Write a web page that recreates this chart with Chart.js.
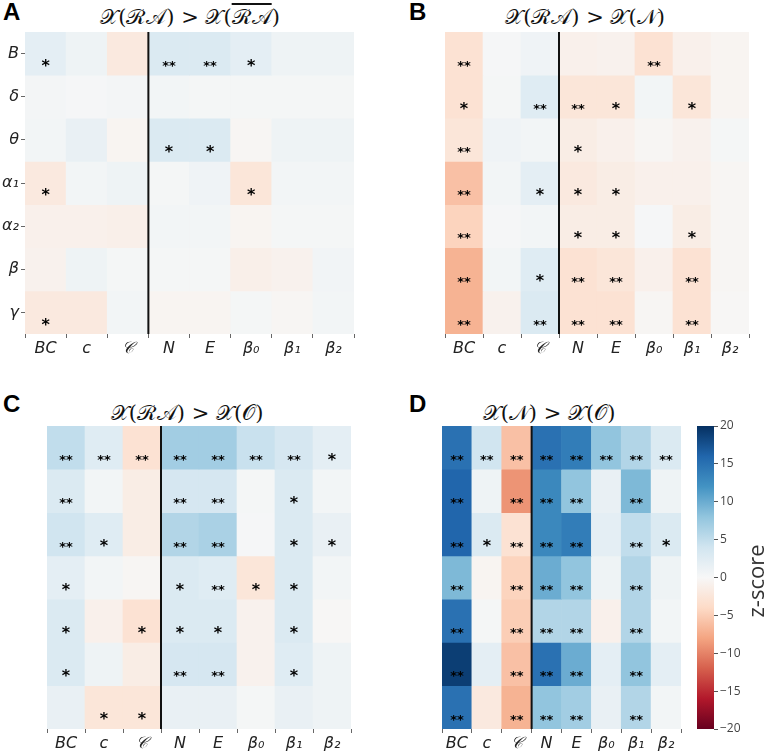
<!DOCTYPE html>
<html>
<head>
<meta charset="utf-8">
<script src="https://cdn.jsdelivr.net/npm/chart.js@4.4.1/dist/chart.umd.min.js"></script>
<style>
body { margin:0; width:768px; height:756px; background:#fff; position:relative; overflow:hidden; font-family:"DejaVu Sans", sans-serif; }
.box { position:absolute; }
.letter { position:absolute; font:bold 24px/24px "Liberation Sans", Arial, sans-serif; color:#000; }
.title { position:absolute; font-size:21px; line-height:26px; font-family:"DejaVu Serif", serif; color:#111; transform:translateX(-50%); white-space:nowrap; }
.over { text-decoration:overline; }
.zlabel { position:absolute; left:715px; top:566px; width:80px; line-height:24px; text-align:center; font:22px "Open Sans", sans-serif; color:#333; transform:rotate(-90deg); }
</style>
</head>
<body>

<div class="letter" style="left:3px; top:0px;">A</div>
<div class="letter" style="left:409px; top:0px;">B</div>
<div class="letter" style="left:3px; top:392px;">C</div>
<div class="letter" style="left:409px; top:392px;">D</div>

<div class="title" style="left:190px; top:4px;">𝒳(ℛ𝒜) &gt; 𝒳(<span class="over">ℛ𝒜</span>)</div>
<div class="title" style="left:585px; top:4px;">𝒳(ℛ𝒜) &gt; 𝒳(𝒩)</div>
<div class="title" style="left:187px; top:400px;">𝒳(ℛ𝒜) &gt; 𝒳(𝒪)</div>
<div class="title" style="left:549px; top:400px;">𝒳(𝒩) &gt; 𝒳(𝒪)</div>

<div class="box" style="left:0px; top:32px;"><canvas id="chartA" width="358" height="332"></canvas></div>
<div class="box" style="left:416px; top:32px;"><canvas id="chartB" width="337" height="332"></canvas></div>
<div class="box" style="left:18px; top:426px;"><canvas id="chartC" width="337" height="333"></canvas></div>
<div class="box" style="left:413px; top:426px;"><canvas id="chartD" width="272" height="333"></canvas></div>
<div class="box" style="left:693px; top:416px;"><canvas id="colorbar" width="57" height="323"></canvas></div>
<div class="zlabel">z-score</div>

<script>
// ------------------- DATA -------------------
const colLabels = ["BC", "c", "𝒞", "N", "E", "β₀", "β₁", "β₂"];
const rowLabels = ["B", "δ", "θ", "α₁", "α₂", "β", "γ"];
const cbarTicks = [20, 15, 10, 5, 0, -5, -10, -15, -20];

// z-scores, rows top to bottom
const zA = [
    [2, 1, -2, 3, 3, 2, 1, 1],
    [0.4, 0.2, 0.4, 0.5, 0.3, 0.3, 0.3, 0.3],
    [0.5, 1.5, -0.5, 3, 3, -0.3, 1, 1],
    [-2, 0.5, 1, 0.3, 0.8, -2.5, 0.5, 0.5],
    [-1, -1, -1.2, 0.5, 0.5, -0.5, 0.3, 0.3],
    [-0.8, 1, 0.3, 0.3, 0.3, -1.2, -0.8, 0.6],
    [-2, -2, 0.5, -0.5, -0.5, 0.3, -0.3, 0.5]
];
const zB = [
    [-3, 0.2, 0.8, -1, -0.8, -3, -1, -0.5],
    [-3, 0.3, 2.5, -2.5, -2.5, 0.5, -2.5, -0.5],
    [-2.5, 0.8, 0.5, -1.5, -1, -0.3, -0.8, 0.3],
    [-6, 0.5, 2, -2, -1.5, -1, -1, -0.3],
    [-4.5, 0.2, 0.5, -1.5, -1.5, 0.2, -1.5, -0.3],
    [-7, 0.5, 2.5, -3, -2.5, -1, -3, -0.3],
    [-7, -0.8, 3, -3, -3, -0.3, -3, -0.2]
];
const zC = [
    [5, 2.5, -3, 7, 7, 4.5, 3.5, 2],
    [3, 0.5, -1.5, 3.5, 3.5, 0.3, 3, 0.5],
    [4, 2.5, -1.5, 6, 6.5, 0.2, 3, 1.5],
    [2, 0.5, -0.3, 3, 2.5, -2.5, 3, 0.5],
    [3, -1, -3, 3, 3, -0.8, 3, -0.2],
    [3, 1, -1.5, 3.5, 3.5, -0.8, 2.5, 1],
    [1.5, -2.5, -2.5, 1.5, 1.5, 0.3, 1.5, 1]
];
const zD = [
    [15, 4, -6, 15, 14, 8, 6, 3],
    [16, 1, -9, 13, 8, 1.5, 9, 1],
    [16, 3, -3, 13, 14, 2, 5, 3],
    [9, -0.5, -4.5, 10, 8, 1, 6, 1],
    [15, 0.3, -5, 6, 6, -1, 6, 0.5],
    [19, 2, -6, 15, 10, 2, 8, 2],
    [15, -2, -7, 8, 7, 1.5, 6, 0.5]
];

// significance marks, same layout
const starsA = [
    ["*", "", "", "**", "**", "*", "", ""],
    ["", "", "", "", "", "", "", ""],
    ["", "", "", "*", "*", "", "", ""],
    ["*", "", "", "", "", "*", "", ""],
    ["", "", "", "", "", "", "", ""],
    ["", "", "", "", "", "", "", ""],
    ["*", "", "", "", "", "", "", ""]
];
const starsB = [
    ["**", "", "", "", "", "**", "", ""],
    ["*", "", "**", "**", "*", "", "*", ""],
    ["**", "", "", "*", "", "", "", ""],
    ["**", "", "*", "*", "*", "", "", ""],
    ["**", "", "", "*", "*", "", "*", ""],
    ["**", "", "*", "**", "**", "", "**", ""],
    ["**", "", "**", "**", "**", "", "**", ""]
];
const starsC = [
    ["**", "**", "**", "**", "**", "**", "**", "*"],
    ["**", "", "", "**", "**", "", "*", ""],
    ["**", "*", "", "**", "**", "", "*", "*"],
    ["*", "", "", "*", "**", "*", "*", ""],
    ["*", "", "*", "*", "*", "", "*", ""],
    ["*", "", "", "**", "**", "", "*", ""],
    ["", "*", "*", "", "", "", "", ""]
];
const starsD = [
    ["**", "**", "**", "**", "**", "**", "**", "**"],
    ["**", "", "**", "**", "**", "", "**", ""],
    ["**", "*", "**", "**", "**", "", "**", "*"],
    ["**", "", "**", "**", "**", "", "**", ""],
    ["**", "", "**", "**", "**", "", "**", ""],
    ["**", "", "**", "**", "**", "", "**", ""],
    ["**", "", "**", "**", "**", "", "**", ""]
];

// ------------------- COLOURS (RdBu, -20..20) -------------------
const rdbu = ["#67001f", "#b2182b", "#d6604d", "#f4a582", "#fddbc7", "#f7f7f7",
              "#d1e5f0", "#92c5de", "#4393c3", "#2166ac", "#053061"];

function hexToRgb(h) {
    return [parseInt(h.slice(1, 3), 16), parseInt(h.slice(3, 5), 16), parseInt(h.slice(5, 7), 16)];
}

function zColor(z) {
    const t = (Math.max(-20, Math.min(20, z)) + 20) / 40 * 10;
    const i = Math.min(9, Math.floor(t));
    const f = t - i;
    const a = hexToRgb(rdbu[i]);
    const b = hexToRgb(rdbu[i + 1]);
    const c = a.map((v, k) => Math.round(v + (b[k] - v) * f));
    return `rgb(${c[0]},${c[1]},${c[2]})`;
}

// ------------------- PLUGINS -------------------
function starsPlugin(stars) {
    return {
        id: "stars",
        afterDatasetsDraw(chart) {
            const { ctx, scales } = chart;
            ctx.save();
            ctx.fillStyle = "#000";
            ctx.textAlign = "center";
            ctx.textBaseline = "middle";
            stars.forEach((row, i) => {
                row.forEach((s, j) => {
                    if (!s) return;
                    ctx.font = s === "**" ? "bold 13px 'DejaVu Sans'" : "bold 16px 'DejaVu Sans'";
                    const x = scales.x.getPixelForValue(j);
                    const y = scales.y.getPixelForValue(i + 0.8);
                    ctx.fillText(s, x, y);
                });
            });
            ctx.restore();
        }
    };
}

const dividerPlugin = {
    id: "divider",
    afterDatasetsDraw(chart) {
        const { ctx, chartArea, scales } = chart;
        const x = (scales.x.getPixelForValue(2) + scales.x.getPixelForValue(3)) / 2;
        ctx.save();
        ctx.strokeStyle = "#111";
        ctx.lineWidth = 2;
        ctx.beginPath();
        ctx.moveTo(x, chartArea.top);
        ctx.lineTo(x, chartArea.bottom);
        ctx.stroke();
        ctx.restore();
    }
};

// no extra room for half tick labels, the areas are placed by hand
function noScalePad(s) {
    s.paddingTop = 0;
    s.paddingBottom = 0;
    s.paddingLeft = 0;
    s.paddingRight = 0;
}

// ------------------- HEATMAP -------------------
function makeHeatmap(canvasId, z, stars, showY, padLeft) {
    const datasets = rowLabels.map((r, i) => ({
        label: r,
        data: colLabels.map(() => 1),
        backgroundColor: z[i].map(zColor),
        borderWidth: 0,
        barPercentage: 1,
        categoryPercentage: 1
    }));

    return new Chart(document.getElementById(canvasId), {
        type: "bar",
        data: { labels: colLabels, datasets: datasets },
        options: {
            responsive: false,
            animation: false,
            layout: { padding: { left: padLeft, right: 4, top: 0, bottom: 0 } },
            plugins: { legend: { display: false }, tooltip: { enabled: false } },
            scales: {
                x: {
                    stacked: true,
                    grid: { display: true, drawOnChartArea: false, drawTicks: true, tickLength: 4, color: "#666" },
                    border: { display: false },
                    ticks: { font: { family: "DejaVu Sans", style: "italic", size: 16 }, color: "#222", padding: 1, maxRotation: 0, autoSkip: false },
                    afterFit: s => { s.height = 30; noScalePad(s); }
                },
                y: {
                    display: showY,
                    stacked: true,
                    reverse: true,
                    min: 0,
                    max: 7,
                    grid: { display: true, drawOnChartArea: false, drawTicks: true, tickLength: 4, color: "#666" },
                    border: { display: false },
                    afterBuildTicks: s => { s.ticks = rowLabels.map((_, i) => ({ value: i + 0.5 })); },
                    ticks: { callback: (v, i) => rowLabels[i], font: { family: "DejaVu Sans", style: "italic", size: 16 }, color: "#222", padding: 2 },
                    afterFit: s => { s.width = 25; noScalePad(s); }
                }
            }
        },
        plugins: [starsPlugin(stars), dividerPlugin]
    });
}

// ------------------- COLORBAR -------------------
function makeColorbar() {
    new Chart(document.getElementById("colorbar"), {
        type: "bar",
        data: {
            labels: [""],
            datasets: [{
                data: [[-20, 20]],
                borderWidth: 0,
                barPercentage: 1,
                categoryPercentage: 1,
                backgroundColor: ctx => {
                    const area = ctx.chart.chartArea;
                    if (!area) return "#fff";
                    const g = ctx.chart.ctx.createLinearGradient(0, area.bottom, 0, area.top);
                    rdbu.forEach((c, i) => g.addColorStop(i / 10, c));
                    return g;
                }
            }]
        },
        options: {
            responsive: false,
            animation: false,
            layout: { padding: { left: 4, right: 0, top: 10, bottom: 10 } },
            plugins: { legend: { display: false }, tooltip: { enabled: false } },
            scales: {
                x: { display: false },
                y: {
                    position: "right",
                    min: -20,
                    max: 20,
                    afterBuildTicks: s => { s.ticks = cbarTicks.map(v => ({ value: v })); },
                    grid: { display: true, drawOnChartArea: false, drawTicks: true, tickLength: 4, color: "#555" },
                    border: { display: false },
                    ticks: {
                        callback: v => v < 0 ? "−" + (-v) : String(v),
                        font: { family: "Open Sans", size: 12 },
                        color: "#444",
                        padding: 2
                    },
                    afterFit: s => { s.width = 36; noScalePad(s); }
                }
            }
        }
    });
}

makeHeatmap("chartA", zA, starsA, true, 0);
makeHeatmap("chartB", zB, starsB, false, 4);
makeHeatmap("chartC", zC, starsC, false, 4);
makeHeatmap("chartD", zD, starsD, false, 4);
makeColorbar();
</script>
</body>
</html>
